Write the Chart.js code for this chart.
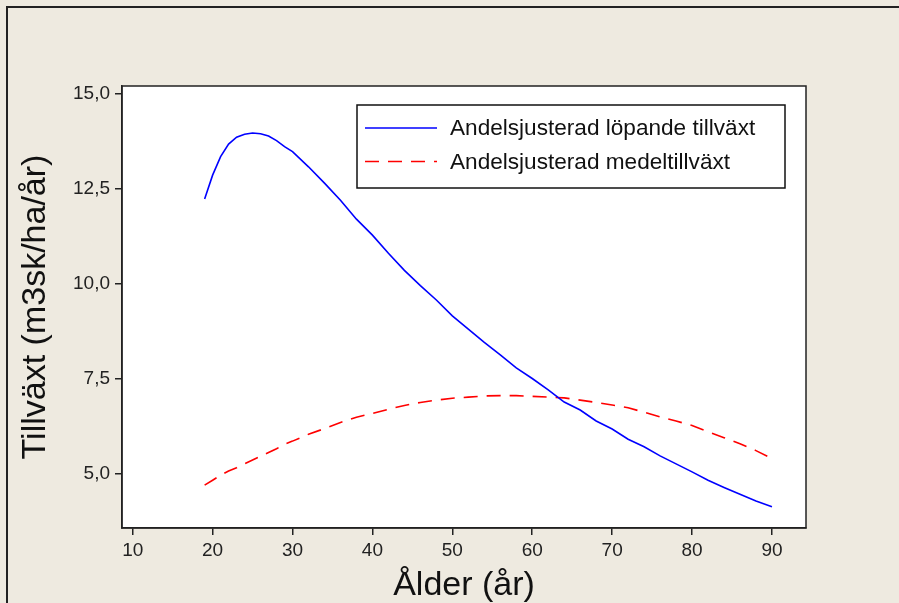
<!DOCTYPE html>
<html>
<head>
<meta charset="utf-8">
<script src="https://cdn.jsdelivr.net/npm/chart.js@4/dist/chart.umd.min.js"></script>
<style>
  html, body { margin: 0; padding: 0; background: #eeeae0; }
  #wrap { width: 899px; height: 603px; }
</style>
</head>
<body>
<div id="wrap"><canvas id="tillvaxtChart" width="899" height="603"></canvas></div>
<script>
// Ålder (år)
const ages = [19, 20, 21, 22, 23, 24, 25, 26, 27, 28, 29, 30, 32, 34, 36, 38, 40, 42, 44, 46, 48, 50,
    52, 54, 56, 58, 60, 62, 64, 66, 68, 70, 72, 74, 76, 78, 80, 82, 84, 86, 88, 90];

// Andelsjusterad löpande tillväxt
const lopande = [12.23, 12.86, 13.35, 13.68, 13.86, 13.94, 13.97, 13.95, 13.89, 13.77, 13.61, 13.48,
    13.08, 12.65, 12.20, 11.70, 11.28, 10.80, 10.35, 9.95, 9.57, 9.15, 8.80, 8.45, 8.12, 7.78, 7.50,
    7.20, 6.88, 6.67, 6.38, 6.17, 5.90, 5.70, 5.46, 5.25, 5.04, 4.82, 4.63, 4.45, 4.27, 4.12];

// Andelsjusterad medeltillväxt
const medel = [4.69, 4.82, 4.95, 5.06, 5.15, 5.25, 5.35, 5.45, 5.55, 5.65, 5.77, 5.85,
    6.03, 6.18, 6.34, 6.48, 6.58, 6.69, 6.79, 6.87, 6.93, 6.98, 7.01, 7.04, 7.05, 7.05, 7.03,
    7.01, 6.99, 6.93, 6.87, 6.80, 6.73, 6.61, 6.49, 6.38, 6.26, 6.10, 5.94, 5.78, 5.60, 5.39];

const seriesNames = ['Andelsjusterad löpande tillväxt', 'Andelsjusterad medeltillväxt'];
const xTicks = [10, 20, 30, 40, 50, 60, 70, 80, 90];
const yTicks = [5.0, 7.5, 10.0, 12.5, 15.0];

const toPoints = (vals) => ages.map((a, i) => ({ x: a, y: vals[i] }));

const frameColor = '#222';
const fontFamily = '"Liberation Sans", Arial, sans-serif';

// beige page, white plot area, outer frame lines, plot border
const backgroundPlugin = {
    id: 'background',
    beforeDraw(chart) {
        const { ctx, chartArea: a } = chart;
        ctx.save();
        ctx.fillStyle = '#eeeae0';
        ctx.fillRect(0, 0, chart.width, chart.height);
        ctx.fillStyle = '#ffffff';
        ctx.fillRect(a.left, a.top, a.right - a.left, a.bottom - a.top);
        ctx.strokeStyle = frameColor;
        ctx.lineWidth = 2;
        ctx.beginPath();
        ctx.moveTo(7, chart.height);
        ctx.lineTo(7, 7);
        ctx.lineTo(chart.width, 7);
        ctx.stroke();
        ctx.restore();
    },
    afterDraw(chart) {
        const { ctx, chartArea: a } = chart;
        ctx.save();
        ctx.strokeStyle = frameColor;
        ctx.lineWidth = 1.5;
        ctx.strokeRect(a.left, a.top, a.right - a.left, a.bottom - a.top);
        ctx.restore();
    }
};

// legend box inside the plot, drawn from the datasets
const boxLegendPlugin = {
    id: 'boxLegend',
    afterDraw(chart) {
        const { ctx } = chart;
        const box = { x: 357, y: 105, w: 428, h: 83 };
        ctx.save();
        ctx.fillStyle = '#ffffff';
        ctx.fillRect(box.x, box.y, box.w, box.h);
        ctx.strokeStyle = '#111';
        ctx.lineWidth = 1.5;
        ctx.strokeRect(box.x, box.y, box.w, box.h);
        const rows = [128, 161.5];
        chart.data.datasets.forEach((ds, i) => {
            const y = rows[i];
            ctx.strokeStyle = ds.borderColor;
            ctx.lineWidth = ds.borderWidth;
            ctx.setLineDash(ds.borderDash || []);
            ctx.beginPath();
            ctx.moveTo(365, y);
            ctx.lineTo(437, y);
            ctx.stroke();
            ctx.setLineDash([]);
            ctx.fillStyle = '#111';
            ctx.font = '22.6px ' + fontFamily;
            ctx.textBaseline = 'middle';
            ctx.textAlign = 'left';
            ctx.fillText(ds.label, 450, y + 1);
        });
        ctx.restore();
    }
};

const ctx = document.getElementById('tillvaxtChart').getContext('2d');
window.tillvaxtChart = new Chart(ctx, {
    type: 'line',
    data: {
        datasets: [{
            label: seriesNames[0],
            data: toPoints(lopande),
            borderColor: '#0000ff',
            borderWidth: 1.6,
            pointRadius: 0,
            tension: 0,
            fill: false
        }, {
            label: seriesNames[1],
            data: toPoints(medel),
            borderColor: '#ff0000',
            borderWidth: 1.6,
            borderDash: [14, 9],
            pointRadius: 0,
            tension: 0,
            fill: false
        }]
    },
    options: {
        responsive: false,
        animation: false,
        layout: { padding: { left: 0, top: 86, right: 93, bottom: 0 } },
        plugins: {
            legend: { display: false },
            tooltip: { enabled: false }
        },
        scales: {
            x: {
                type: 'linear',
                min: 8.66,
                max: 94.26,
                afterFit: (axis) => { axis.height = 75; },
                afterBuildTicks: (axis) => { axis.ticks = xTicks.map(v => ({ value: v })); },
                grid: { display: true, drawOnChartArea: false, drawTicks: true, tickLength: 7, color: frameColor, lineWidth: 1.5 },
                border: { display: true, color: frameColor, width: 1.5 },
                ticks: {
                    color: '#222',
                    padding: 4,
                    maxRotation: 0,
                    font: { family: fontFamily, size: 19 }
                },
                title: {
                    display: true,
                    text: 'Ålder (år)',
                    color: '#111',
                    font: { family: fontFamily, size: 34, lineHeight: 1 },
                    padding: { top: 0, bottom: 0 }
                }
            },
            y: {
                type: 'linear',
                min: 3.56,
                max: 15.21,
                afterFit: (axis) => { axis.width = 122; },
                afterBuildTicks: (axis) => { axis.ticks = yTicks.map(v => ({ value: v })); },
                grid: { display: true, drawOnChartArea: false, drawTicks: true, tickLength: 7, color: frameColor, lineWidth: 1.5 },
                border: { display: true, color: frameColor, width: 1.5 },
                ticks: {
                    color: '#222',
                    padding: 5,
                    font: { family: fontFamily, size: 19 },
                    callback: (v) => Number(v).toFixed(1).replace('.', ',')
                },
                title: {
                    display: true,
                    text: 'Tillväxt (m3sk/ha/år)',
                    color: '#111',
                    font: { family: fontFamily, size: 34, lineHeight: 1 },
                    padding: { top: 19, bottom: 0 }
                }
            }
        }
    },
    plugins: [backgroundPlugin, boxLegendPlugin]
});
</script>
</body>
</html>
